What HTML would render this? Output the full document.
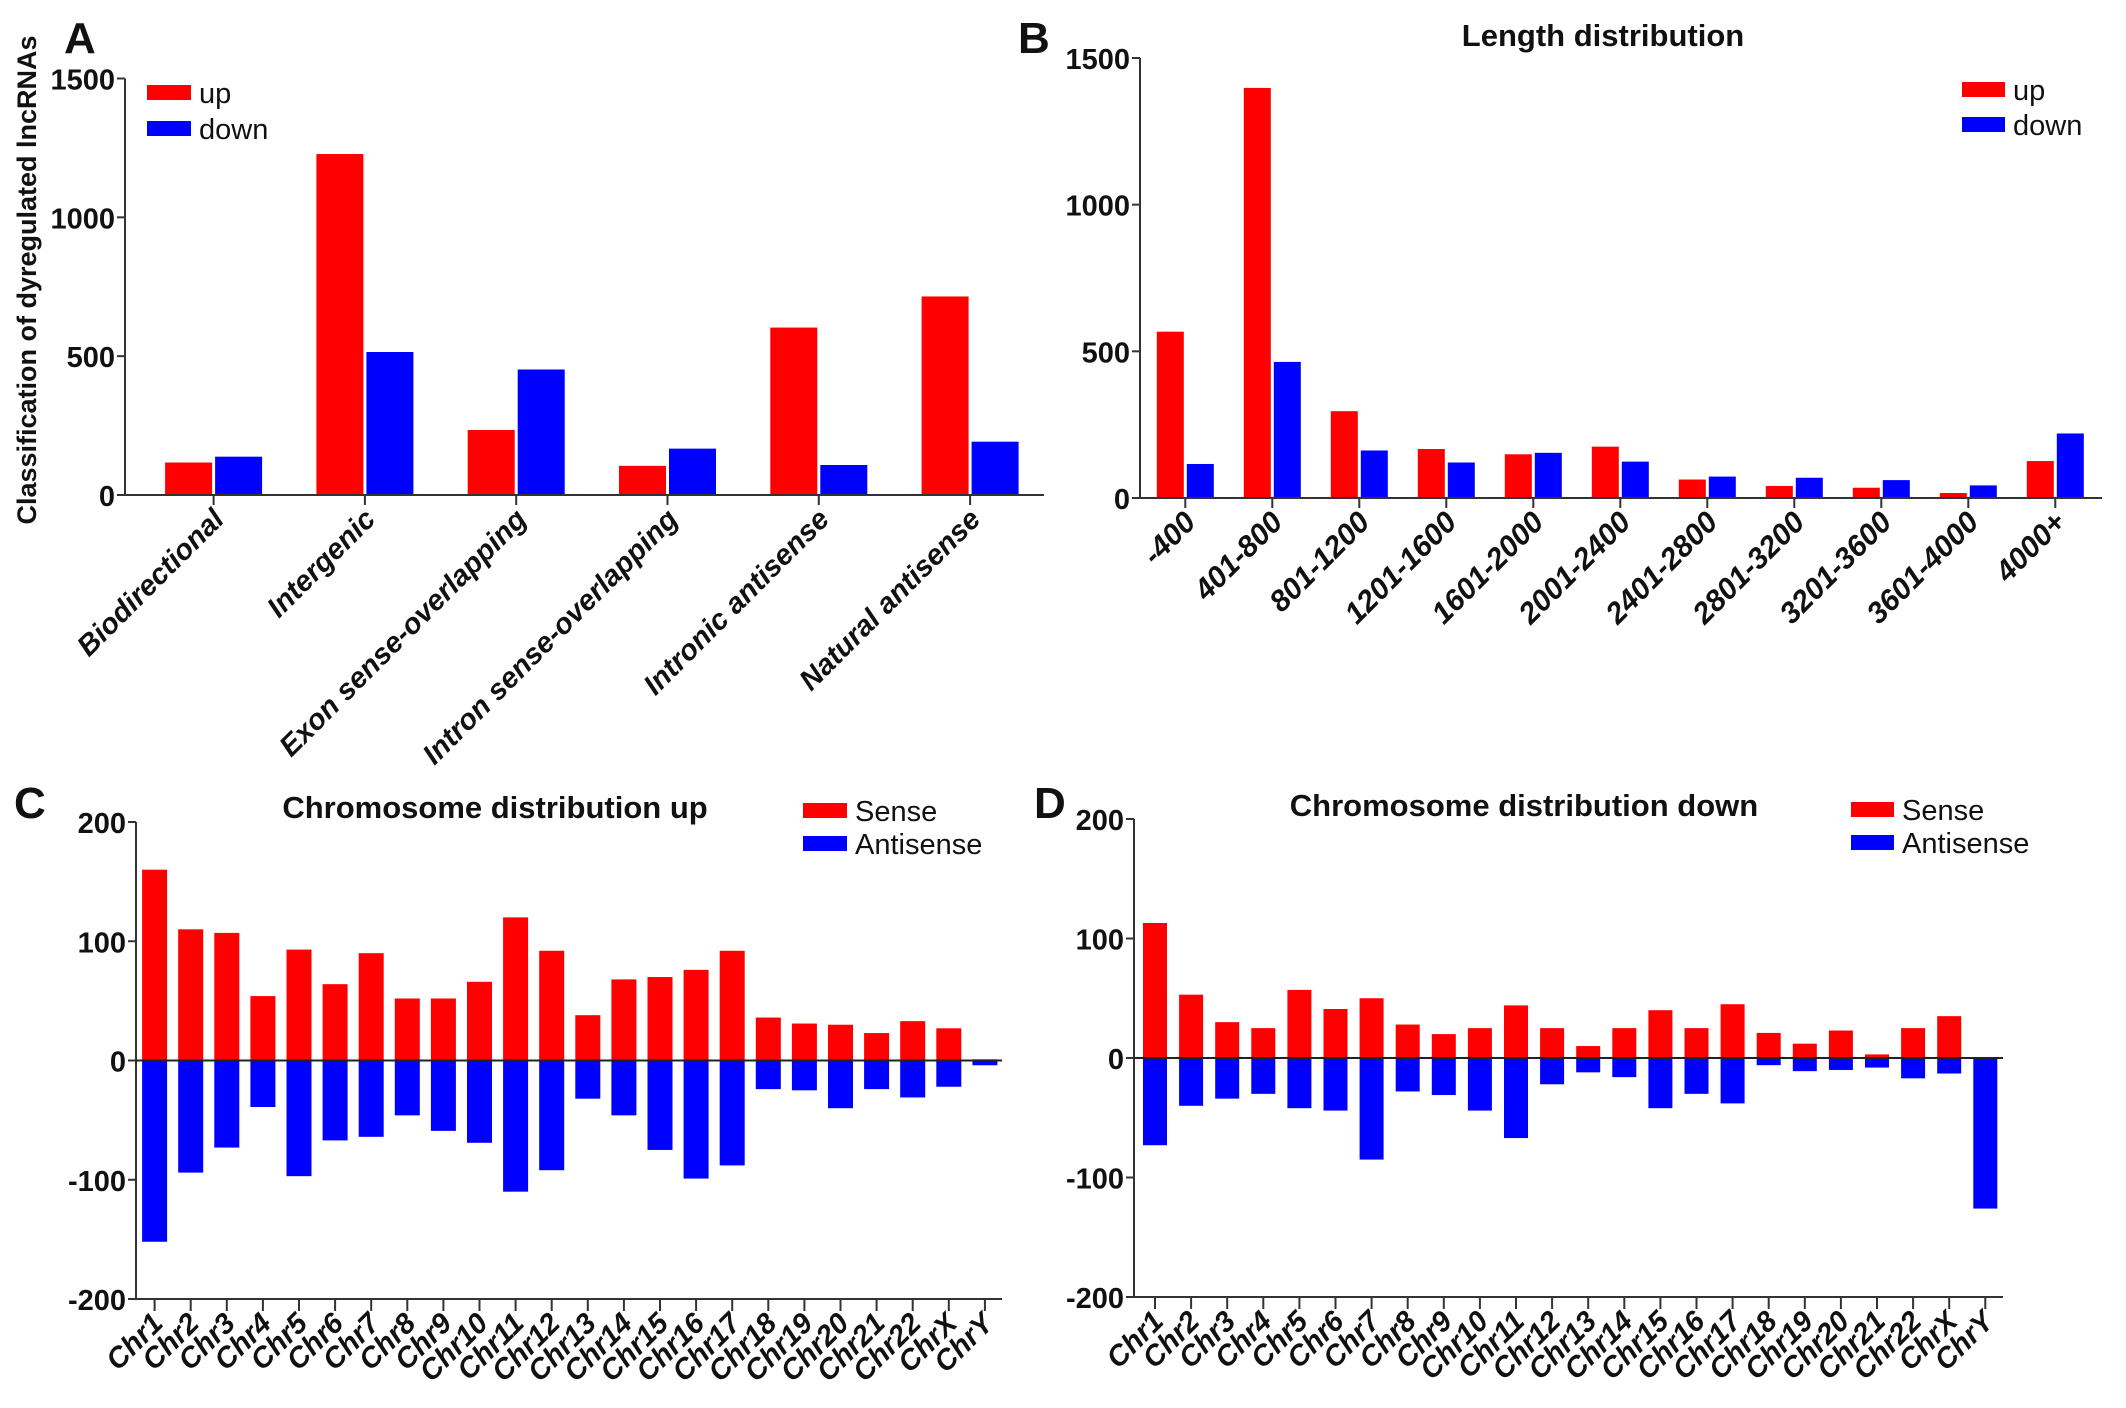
<!DOCTYPE html>
<html><head><meta charset="utf-8">
<style>
html,body{margin:0;padding:0;background:#fff;}
svg{display:block;}
.num{font-family:"Liberation Sans Narrow","Liberation Sans",sans-serif;font-weight:bold;font-size:29px;fill:#111;}
.xl{font-family:"Liberation Sans",sans-serif;font-weight:bold;font-style:italic;fill:#111;}
.ttl{font-family:"Liberation Sans Narrow","Liberation Sans",sans-serif;font-weight:bold;font-size:31px;fill:#111;}
.leg{font-family:"Liberation Sans Narrow","Liberation Sans",sans-serif;font-size:29px;fill:#111;}
.pl{font-family:"Liberation Sans",sans-serif;font-weight:bold;font-size:44px;fill:#111;}
.yt{font-family:"Liberation Sans",sans-serif;font-weight:bold;font-size:27px;fill:#111;}
</style></head>
<body>
<svg id="fig" width="2126" height="1408" viewBox="0 0 2126 1408" xmlns="http://www.w3.org/2000/svg"></svg>
<script>
// Panel A data
const catsA = ["Biodirectional","Intergenic","Exon sense-overlapping","Intron sense-overlapping","Intronic antisense","Natural antisense"];
const upA = [117,1228,234,105,603,715];
const downA = [138,515,452,167,108,192];
const ticksA = [0,500,1000,1500];
// Panel B data
const catsB = ["-400","401-800","801-1200","1201-1600","1601-2000","2001-2400","2401-2800","2801-3200","3201-3600","3601-4000","4000+"];
const upB = [567,1398,296,167,149,175,63,41,35,17,126];
const downB = [116,464,162,121,154,124,73,69,61,43,220];
const ticksB = [0,500,1000,1500];
// Chromosome panels
const chroms = ["Chr1","Chr2","Chr3","Chr4","Chr5","Chr6","Chr7","Chr8","Chr9","Chr10","Chr11","Chr12","Chr13","Chr14","Chr15","Chr16","Chr17","Chr18","Chr19","Chr20","Chr21","Chr22","ChrX","ChrY"];
const senseC = [160,110,107,54,93,64,90,52,52,66,120,92,38,68,70,76,92,36,31,30,23,33,27,1];
const antiC = [-152,-94,-73,-39,-97,-67,-64,-46,-59,-69,-110,-92,-32,-46,-75,-99,-88,-24,-25,-40,-24,-31,-22,-4];
const senseD = [113,53,30,25,57,41,50,28,20,25,44,25,10,25,40,25,45,21,12,23,3,25,35,0];
const antiD = [-73,-40,-34,-30,-42,-44,-85,-28,-31,-44,-67,-22,-12,-16,-42,-30,-38,-6,-11,-10,-8,-17,-13,-126];
const ticksCD = [-200,-100,0,100,200];

const NS="http://www.w3.org/2000/svg";
const svg=document.getElementById('fig');
function mk(tag,attrs,parent,text){
  const e=document.createElementNS(NS,tag);
  for(const k in attrs) e.setAttribute(k,attrs[k]);
  if(text!==undefined) e.textContent=text;
  (parent||svg).appendChild(e);
  return e;
}
const RED="#ff0000", BLUE="#0000ff", AX="#333";

function panel(cfg){
  const g=mk('g',{});
  
  
  const y=v=>cfg.y0+(v-cfg.vmin)/(cfg.vmax-cfg.vmin)*(cfg.y1-cfg.y0);
  const x=i=>cfg.x0+i*cfg.step;
  cfg.series.forEach((s,si)=>{
    s.vals.forEach((v,i)=>{
      const cx=x(i)+s.off;
      const ya=y(0), yb=y(v);
      const r=mk('rect',{x:cx-cfg.bw/2,y:Math.min(ya,yb),width:cfg.bw,height:Math.abs(yb-ya),fill:s.color},g);
      
      
    });
  });
  const ya=mk('line',{x1:cfg.ax,x2:cfg.ax,y1:y(cfg.vmin),y2:y(cfg.vmax),stroke:AX,'stroke-width':2},g);
  
  
  cfg.ticks.forEach(t=>{
    mk('line',{x1:cfg.ax-8,x2:cfg.ax,y1:y(t),y2:y(t),stroke:AX,'stroke-width':2},g);
    const tl=mk('text',{x:cfg.ax-10,y:y(t)+11,'text-anchor':'end',class:'num'},g,String(t));
    
    
  });
  const xa=mk('line',{x1:cfg.ax,x2:cfg.xend,y1:y(cfg.vmin),y2:y(cfg.vmin),stroke:AX,'stroke-width':2},g);
  
  
  if(cfg.vmin<0){
    const zl=mk('line',{x1:cfg.ax,x2:cfg.xend,y1:y(0),y2:y(0),stroke:'#222','stroke-width':2},g);
    
    
  }
  const by=y(cfg.vmin);
  cfg.cats.forEach((c,i)=>{
    mk('line',{x1:x(i),x2:x(i),y1:by,y2:by+cfg.tl,stroke:AX,'stroke-width':2},g);
    const lx=x(i)+cfg.lox, ly=by+cfg.loy;
    const t=mk('text',{x:lx,y:ly,'text-anchor':'end',class:'xl','font-size':cfg.fs,transform:`rotate(-45 ${lx} ${ly})`},g,c);
    
    
  });
}

panel({name:'panel-a-chart',cats:catsA,x0:213.6,step:151.3,bw:47,ax:125,xend:1044,y0:495,y1:78.5,vmin:0,vmax:1500,ticks:ticksA,tl:10,lox:12,loy:26,fs:29,
  series:[{key:'up',vals:upA,color:RED,off:-25},{key:'down',vals:downA,color:BLUE,off:25}]});
panel({name:'panel-b-chart',cats:catsB,x0:1185.3,step:87.0,bw:27,ax:1140,xend:2102,y0:498,y1:58,vmin:0,vmax:1500,ticks:ticksB,tl:10,lox:12,loy:26,fs:30,
  series:[{key:'up',vals:upB,color:RED,off:-15},{key:'down',vals:downB,color:BLUE,off:15}]});
panel({name:'panel-c-chart',cats:chroms,x0:154.6,step:36.1,bw:25,ax:136,xend:1002,y0:1299,y1:822,vmin:-200,vmax:200,ticks:ticksCD,tl:12,lox:10,loy:26,fs:29,
  series:[{key:'sense',vals:senseC,color:RED,off:0},{key:'antisense',vals:antiC,color:BLUE,off:0}]});
panel({name:'panel-d-chart',cats:chroms,x0:1155,step:36.1,bw:24,ax:1134,xend:2003,y0:1297,y1:819,vmin:-200,vmax:200,ticks:ticksCD,tl:12,lox:10,loy:26,fs:29,
  series:[{key:'sense',vals:senseD,color:RED,off:0},{key:'antisense',vals:antiD,color:BLUE,off:0}]});

function legend(x,y1,y2,l1,l2,w,h,prefix){
  const a=mk('rect',{x:x,y:y1,width:w,height:h,fill:RED});
  
  
  const at=mk('text',{x:x+w+8,y:y1+h+3,class:'leg'},svg,l1);
  
  
  const b=mk('rect',{x:x,y:y2,width:w,height:h,fill:BLUE});
  
  
  const bt=mk('text',{x:x+w+8,y:y2+h+3,class:'leg'},svg,l2);
  
  
}
legend(147,85,121,'up','down',44,15,'panel-a');
legend(1962,82,117,'up','down',43,15,'panel-b');
legend(803,803,836,'Sense','Antisense',44,15,'panel-c');
legend(1851,802,835,'Sense','Antisense',43,15,'panel-d');
</script>
<script>
(function(){
const NS="http://www.w3.org/2000/svg";
const svg=document.getElementById('fig');
function t(x,y,cls,txt,name,extra){
  const e=document.createElementNS(NS,'text');
  e.setAttribute('x',x);e.setAttribute('y',y);e.setAttribute('class',cls);
  if(extra) for(const k in extra) e.setAttribute(k,extra[k]);
  e.textContent=txt;
  
  
  svg.appendChild(e);
}
t(64,53,'pl','A','panel-a-label');
t(1018,53,'pl','B','panel-b-label');
t(14,818,'pl','C','panel-c-label');
t(1034,818,'pl','D','panel-d-label');
t(1603,46,'ttl','Length distribution','panel-b-title',{'text-anchor':'middle'});
t(495,818,'ttl','Chromosome distribution up','panel-c-title',{'text-anchor':'middle'});
t(1524,816,'ttl','Chromosome distribution down','panel-d-title',{'text-anchor':'middle'});
t(36,280,'yt','Classification of dyregulated lncRNAs','panel-a-y-axis-title',{'text-anchor':'middle',transform:'rotate(-90 36 280)'});
})();
</script>
</body></html>
